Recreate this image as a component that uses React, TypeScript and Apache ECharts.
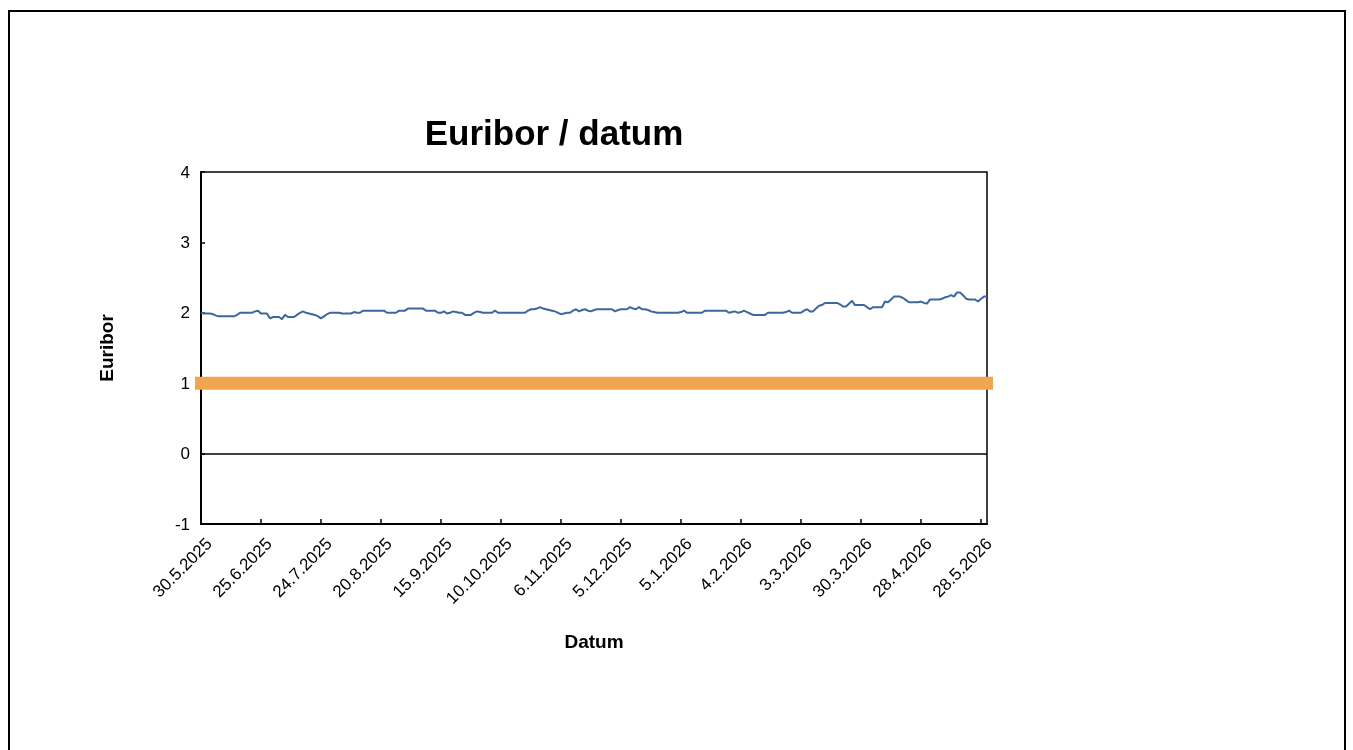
import React, { useEffect, useRef } from "react";
import * as echarts from "echarts";

const tickLabels = [
  "30.5.2025", "25.6.2025", "24.7.2025", "20.8.2025", "15.9.2025", "10.10.2025", "6.11.2025",
  "5.12.2025", "5.1.2026", "4.2.2026", "3.3.2026", "30.3.2026", "28.4.2026", "28.5.2026",
];
const trailingDates = ["29.5.2026", "1.6.2026"];
const pointsPerTick = 20;

const euribor = [
  2.00, 1.99, 1.99, 1.99, 1.98, 1.96, 1.95, 1.95, 1.95, 1.95,
  1.95, 1.95, 1.97, 2.00, 2.00, 2.00, 2.00, 2.00, 2.02, 2.03,
  1.99, 1.99, 1.99, 1.92, 1.94, 1.94, 1.94, 1.91, 1.97, 1.94,
  1.94, 1.94, 1.97, 2.00, 2.02, 2.00, 1.99, 1.98, 1.97, 1.95,
  1.92, 1.95, 1.98, 2.00, 2.00, 2.00, 2.00, 1.99, 1.99, 1.99,
  1.99, 2.01, 2.00, 2.00, 2.03, 2.03, 2.03, 2.03, 2.03, 2.03,
  2.03, 2.03, 2.00, 2.00, 2.00, 2.00, 2.03, 2.03, 2.03, 2.06,
  2.06, 2.06, 2.06, 2.06, 2.06, 2.03, 2.03, 2.03, 2.03, 2.00,
  2.00, 2.02, 1.99, 2.00, 2.02, 2.01, 2.00, 2.00, 1.97, 1.97,
  1.97, 2.00, 2.02, 2.01, 2.00, 2.00, 2.00, 2.00, 2.03, 2.00,
  2.00, 2.00, 2.00, 2.00, 2.00, 2.00, 2.00, 2.00, 2.00, 2.03,
  2.05, 2.05, 2.06, 2.08, 2.06, 2.05, 2.04, 2.03, 2.02, 2.00,
  1.98, 1.99, 2.00, 2.00, 2.03, 2.05, 2.02, 2.04, 2.05, 2.03,
  2.02, 2.04, 2.05, 2.05, 2.05, 2.05, 2.05, 2.05, 2.02, 2.04,
  2.05, 2.05, 2.05, 2.08, 2.06, 2.05, 2.08, 2.05, 2.05, 2.04,
  2.02, 2.01, 2.00, 2.00, 2.00, 2.00, 2.00, 2.00, 2.00, 2.00,
  2.01, 2.03, 2.00, 2.00, 2.00, 2.00, 2.00, 2.00, 2.03, 2.03,
  2.03, 2.03, 2.03, 2.03, 2.03, 2.03, 2.00, 2.01, 2.02, 2.00,
  2.01, 2.03, 2.01, 1.99, 1.97, 1.97, 1.97, 1.97, 1.97, 2.00,
  2.00, 2.00, 2.00, 2.00, 2.00, 2.01, 2.03, 2.00, 2.00, 2.00,
  2.00, 2.03, 2.05, 2.02, 2.02, 2.06, 2.10, 2.11, 2.14, 2.14,
  2.14, 2.14, 2.14, 2.12, 2.09, 2.09, 2.13, 2.17, 2.11, 2.11,
  2.11, 2.11, 2.08, 2.05, 2.08, 2.08, 2.08, 2.08, 2.16, 2.15,
  2.19, 2.23, 2.23, 2.23, 2.21, 2.18, 2.15, 2.15, 2.15, 2.15,
  2.16, 2.14, 2.13, 2.19, 2.19, 2.19, 2.19, 2.20, 2.22, 2.23,
  2.25, 2.23, 2.29, 2.29, 2.25, 2.20, 2.19, 2.19, 2.19, 2.16,
  2.20, 2.23, 2.23,
];

const referenceLevel = [1, 1];
const yTicks = { min: -1, max: 4, step: 1 };

function parseDate(s: string): number {
  const [d, m, y] = s.split(".").map(Number);
  return Date.UTC(y, m - 1, d);
}
function fmt(t: number): string {
  const dt = new Date(t);
  return `${dt.getUTCDate()}.${dt.getUTCMonth() + 1}.${dt.getUTCFullYear()}`;
}
function buildCategories(): string[] {
  const out: string[] = [];
  const DAY = 86400000;
  for (let k = 0; k < tickLabels.length - 1; k++) {
    const a = parseDate(tickLabels[k]);
    const b = parseDate(tickLabels[k + 1]);
    const days = (b - a) / DAY;
    for (let j = 0; j < pointsPerTick; j++) {
      if (j === 0) out.push(tickLabels[k]);
      else out.push(fmt(a + Math.round((j * days) / pointsPerTick) * DAY));
    }
  }
  out.push(tickLabels[tickLabels.length - 1]);
  trailingDates.forEach((d) => out.push(d));
  return out;
}

const FONT = "'Liberation Sans', Arial, sans-serif";

export default function App() {
  const ref = useRef<HTMLDivElement>(null);
  useEffect(() => {
    if (!ref.current) return;
    const chart = echarts.init(ref.current, undefined, { renderer: "svg" });
    const categories = buildCategories();
    const gridLeft = 201;
    const gridTop = 172;
    const gridWidth = 786;
    const gridHeight = 352;
    const labelShift = 8;
    chart.setOption({
      animation: false,
      title: {
        text: "Euribor / datum",
        left: 549,
        textAlign: "center",
        top: 110,
        textStyle: { fontFamily: FONT, fontSize: 35, fontWeight: "bold", color: "#000" },
      },
      grid: [
        {
          left: gridLeft,
          top: gridTop,
          width: gridWidth,
          height: gridHeight,
          show: true,
          borderColor: "#000",
          borderWidth: 1.5,
          backgroundColor: "transparent",
        },
        { left: gridLeft - 6, top: gridTop, width: gridWidth + 12, height: gridHeight, show: false },
        { left: gridLeft + labelShift, top: gridTop, width: gridWidth, height: gridHeight, show: false },
      ],
      xAxis: [
        {
          gridIndex: 0,
          type: "category",
          data: categories,
          boundaryGap: false,
          axisLine: { onZero: false, lineStyle: { color: "#000", width: 2 } },
          axisTick: {
            show: true,
            inside: true,
            length: 5,
            interval: pointsPerTick - 1,
            lineStyle: { color: "#000", width: 1.5 },
          },
          axisLabel: { show: false },
          splitLine: { show: false },
          name: "Datum",
          nameLocation: "middle",
          nameGap: 108,
          nameTextStyle: { fontFamily: FONT, fontSize: 19, fontWeight: "bold", color: "#000" },
        },
        {
          gridIndex: 1,
          type: "category",
          data: ["a", "b"],
          boundaryGap: false,
          show: false,
        },
        {
          gridIndex: 2,
          type: "category",
          data: categories,
          boundaryGap: false,
          axisLine: { show: false, onZero: false },
          axisTick: { show: false },
          splitLine: { show: false },
          axisLabel: {
            interval: pointsPerTick - 1,
            rotate: 45,
            margin: 17,
            fontFamily: FONT,
            fontSize: 17,
            color: "#000",
          },
        },
      ],
      yAxis: [
        {
          gridIndex: 0,
          type: "value",
          min: yTicks.min,
          max: yTicks.max,
          interval: yTicks.step,
          axisLine: { show: true, lineStyle: { color: "#000", width: 2 } },
          axisTick: { show: true, inside: true, length: 4, lineStyle: { color: "#000", width: 1.5 } },
          axisLabel: { margin: 11, fontFamily: FONT, fontSize: 17, color: "#000" },
          splitLine: { show: false },
          name: "Euribor",
          nameLocation: "middle",
          nameGap: 85,
          nameTextStyle: { fontFamily: FONT, fontSize: 19, fontWeight: "bold", color: "#000" },
        },
        {
          gridIndex: 1,
          type: "value",
          min: yTicks.min,
          max: yTicks.max,
          interval: yTicks.step,
          show: false,
        },
        {
          gridIndex: 2,
          type: "value",
          min: yTicks.min,
          max: yTicks.max,
          interval: yTicks.step,
          show: false,
        },
      ],
      series: [
        {
          type: "line",
          xAxisIndex: 1,
          yAxisIndex: 1,
          data: referenceLevel,
          symbol: "none",
          silent: true,
          lineStyle: { color: "#F0A550", width: 13, cap: "butt" },
          z: 1,
        },
        {
          type: "line",
          xAxisIndex: 0,
          yAxisIndex: 0,
          data: euribor,
          symbol: "none",
          lineStyle: { color: "#3C679F", width: 2 },
          z: 3,
          markLine: {
            silent: true,
            symbol: "none",
            label: { show: false },
            lineStyle: { color: "#000", width: 1.5, type: "solid" },
            data: [{ yAxis: 0 }],
          },
        },
      ],
    });
    return () => chart.dispose();
  }, []);
  return (
    <>
      <div
        style={{
          position: "fixed",
          left: 8,
          top: 10,
          width: 1338,
          height: 800,
          border: "2px solid #000",
          boxSizing: "border-box",
        }}
      />
      <div ref={ref} style={{ position: "fixed", left: 0, top: 0, width: 1353, height: 750 }} />
    </>
  );
}
